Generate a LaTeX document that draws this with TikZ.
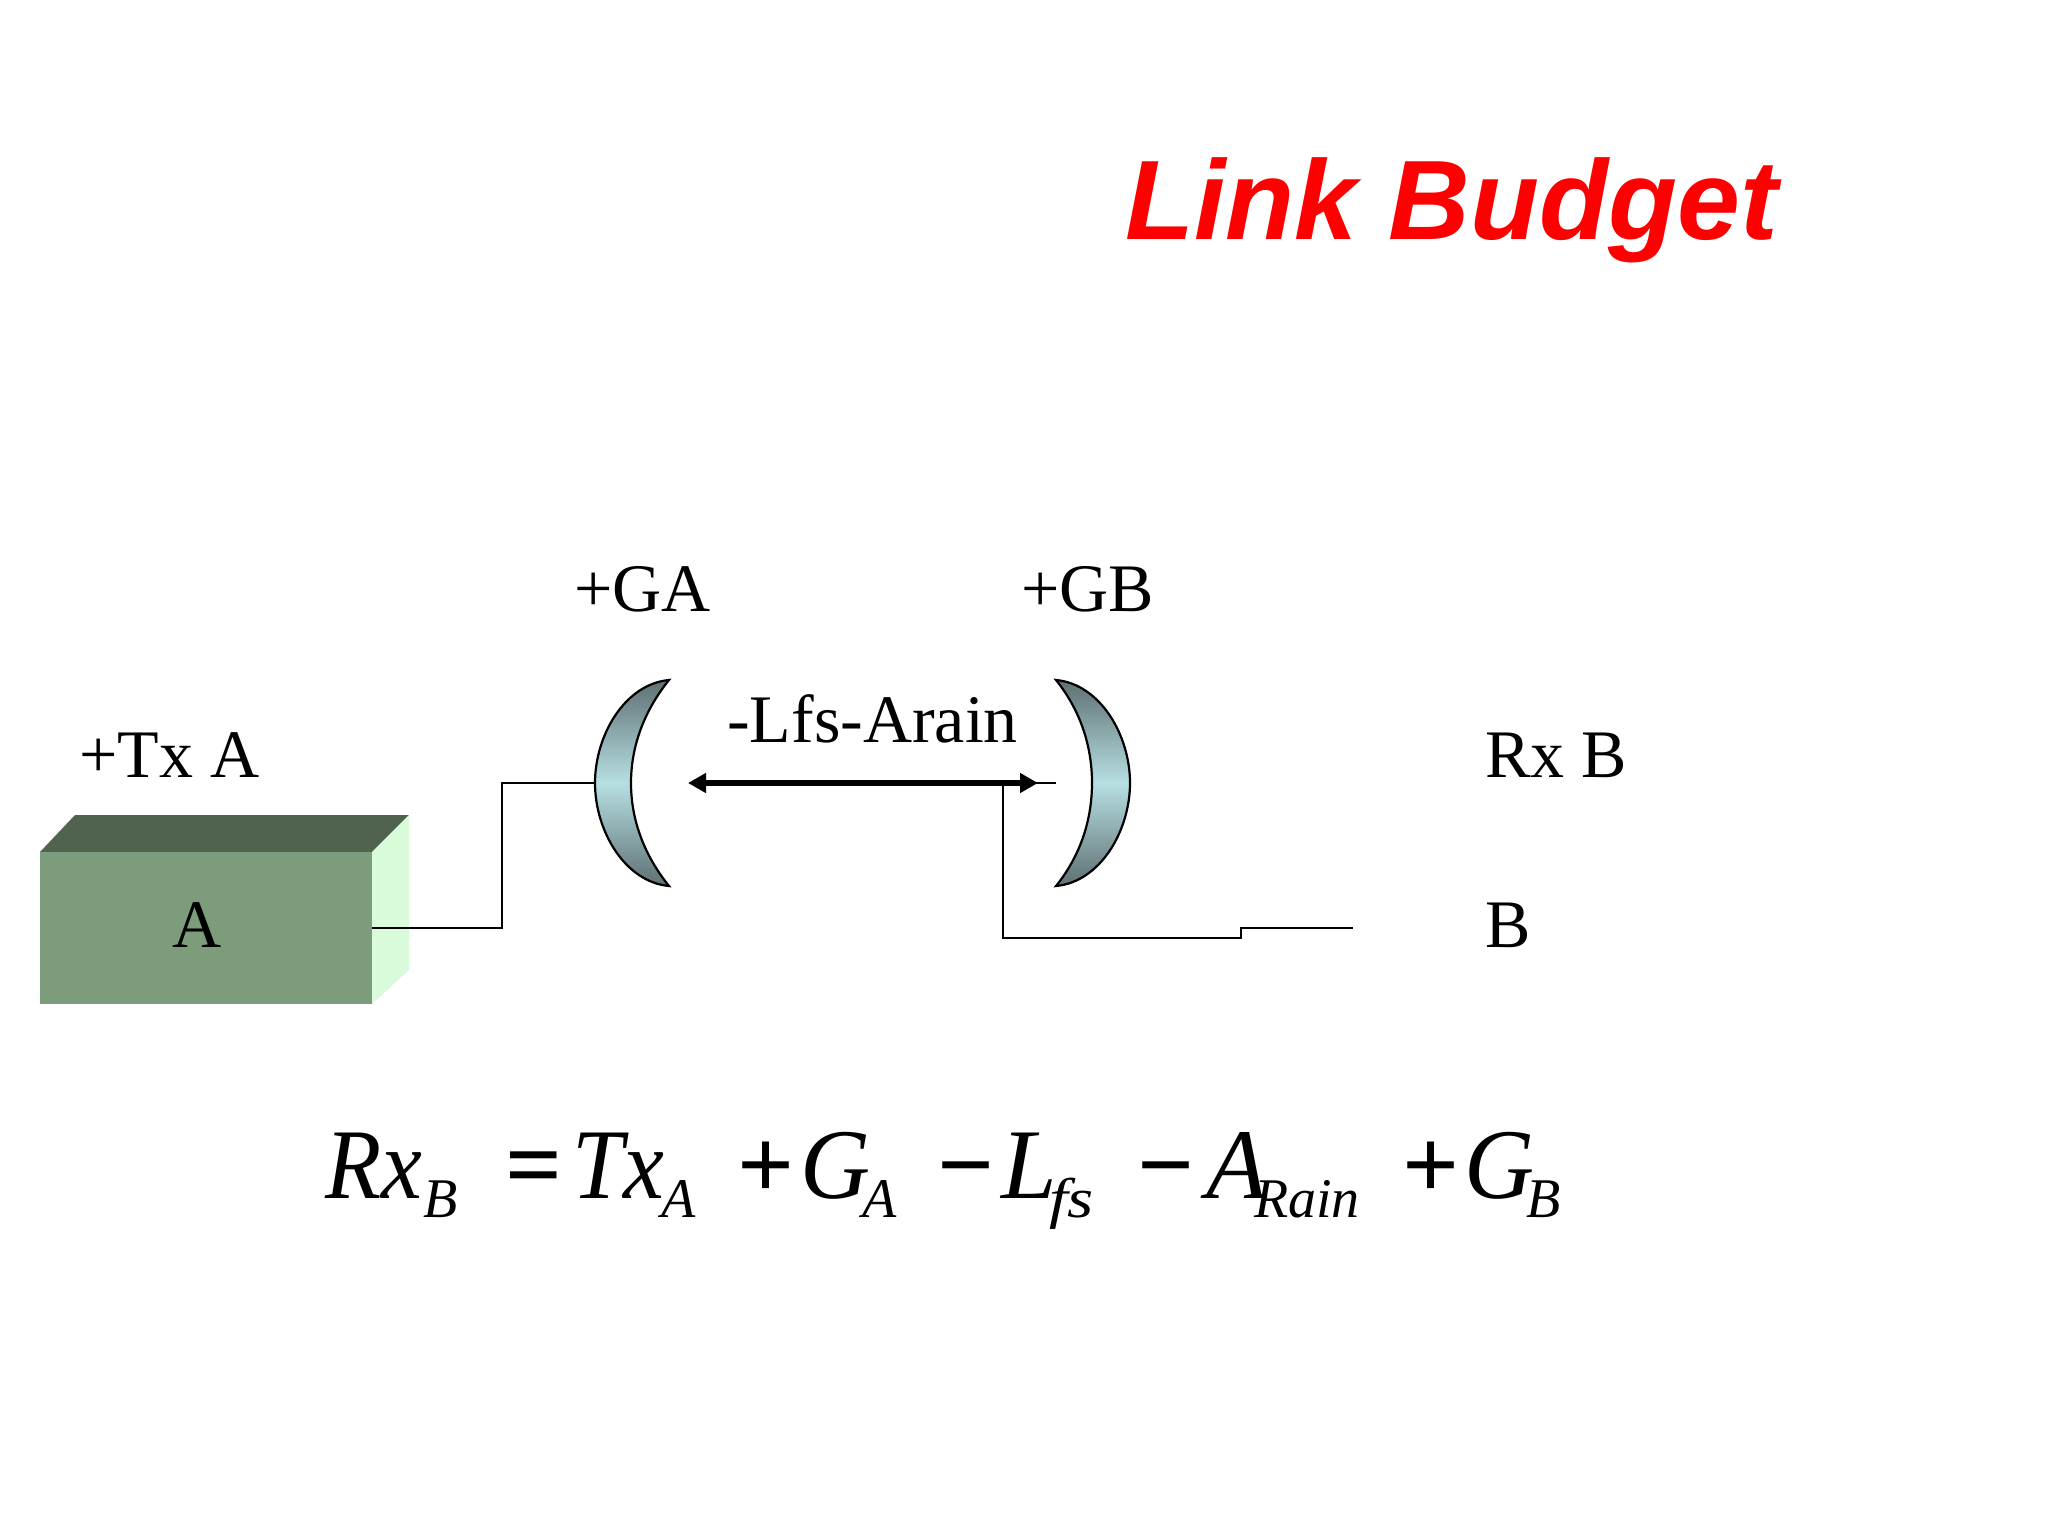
\documentclass[tikz,border=0pt]{standalone}
\usepackage{graphicx}
\usepackage{fontspec}
\usetikzlibrary{arrows.meta}
\setmainfont{Liberation Serif}
\newfontfamily\titlefont{Liberation Sans}
\definecolor{boxfront}{HTML}{7C9C7C}
\definecolor{boxtop}{HTML}{50634F}
\definecolor{boxside}{HTML}{D9FBD9}
\definecolor{lensdark}{HTML}{5F7072}
\definecolor{lenslight}{HTML}{B6DFE3}
\newcommand{\tok}[3]{\rlap{\hspace*{#1pt}\raisebox{#2pt}{#3}}}
\newcommand{\subf}{\fontsize{56}{56}\selectfont\itshape}
\newcommand{\nar}[2]{\scalebox{#1}[1]{\itshape #2}}
\tikzset{
  x=1pt,y=-1pt,
  lbl/.style={anchor=base west,inner sep=0pt,font=\fontsize{68}{68}\selectfont},
  wire/.style={draw=black,line width=2pt,line join=miter},
  lens/.style={draw=black,line width=2.2pt,top color=lensdark,bottom color=lensdark,middle color=lenslight},
  link/.style={line width=6.5pt,{Triangle[length=18pt,width=19pt]}-{Triangle[length=18pt,width=19pt]}}
}
\begin{document}
\begin{tikzpicture}
\useasboundingbox (0,0) rectangle (2048,1536);
\fill[white] (0,0) rectangle (2048,1536);
% title
\node[anchor=base west,inner sep=0pt,text=red,font=\titlefont\bfseries\itshape\fontsize{113}{113}\selectfont] (title) at (1125,239) {Link Budget};
% box
\fill[boxtop] (40,852) -- (75,815) -- (409,815) -- (372,852) -- cycle;
\fill[boxside] (372,852) -- (409,815) -- (409,970) -- (372,1004) -- cycle;
\fill[boxfront] (40,852) rectangle (372,1004);
\coordinate (boxout) at (372,928);
\node[lbl] (boxlabel) at (172,947) {A};
% lenses
\coordinate (lensAback) at (595,783);
\coordinate (lensBfront) at (1056,783);
\path[lens] (669,680) .. controls (625,684) and (595,735) .. (595,783)
  .. controls (595,831) and (625,882) .. (669,886)
  .. controls (648,860) and (631,825) .. (631,783)
  .. controls (631,741) and (648,706) .. (669,680) -- cycle;
\path[lens] (1056,680) .. controls (1100,684) and (1130,735) .. (1130,783)
  .. controls (1130,831) and (1100,882) .. (1056,886)
  .. controls (1077,860) and (1092,825) .. (1092,783)
  .. controls (1092,741) and (1077,706) .. (1056,680) -- cycle;
% wires
\coordinate (turnA) at (502,928);
\coordinate (turnB) at (502,783);
\draw[wire] (boxout) -- (turnA) -- (turnB) -- (lensAback);
\coordinate (rxtap) at (1003,783);
\coordinate (rxend) at (1353,928);
\draw[wire] (rxtap) -- (1003,938) -- (1241,938) -- (1241,928) -- (rxend);
\draw[wire] (rxtap) -- (lensBfront);
% link arrow
\coordinate (linkL) at (688,783);
\coordinate (linkR) at (1038,783);
\draw[link] (linkL) -- (linkR);
% labels
\node[lbl] (txa) at (79,777) {+Tx A};
\node[lbl] (ga) at (574,611) {+GA};
\node[lbl] (gb) at (1021,611) {+GB};
\node[lbl] (lfs) at (727,742) {-Lfs-Arain};
\node[lbl] (rxb) at (1485,777) {Rx B};
\node[lbl] (b) at (1485,947) {B};
% equation
\node[anchor=base west,inner sep=0pt,font=\fontsize{100}{100}\selectfont] (eq) at (325,1198) {%
\tok{0}{0}{\nar{.92}{Rx}}%
\tok{98}{-19}{\subf B}%
\tok{180}{0}{\bfseries =}%
\tok{247}{0}{\nar{.92}{Tx}}%
\tok{336}{-19}{\subf A}%
\tok{412}{0}{\bfseries +}%
\tok{475}{0}{\nar{.97}{G}}%
\tok{537}{-19}{\subf A}%
\tok{612}{0}{\bfseries\char"2212}%
\tok{676}{0}{\nar{1}{L}}%
\tok{724}{-19}{\subf\scalebox{1.2}[1]{fs}}%
\tok{812}{0}{\bfseries\char"2212}%
\tok{881}{0}{\nar{1}{A}}%
\tok{929}{-19}{\subf Rain}%
\tok{1077}{0}{\bfseries +}%
\tok{1139}{0}{\nar{.97}{G}}%
\tok{1201}{-19}{\subf B}%
\hspace*{1240pt}};
\end{tikzpicture}
\end{document}
